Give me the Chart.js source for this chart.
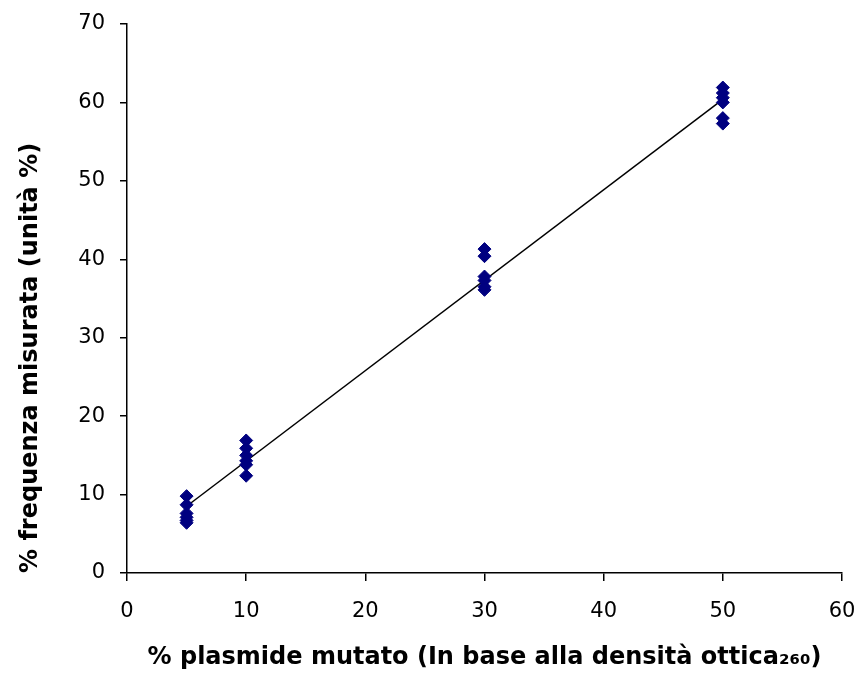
<!DOCTYPE html>
<html>
<head>
<meta charset="utf-8">
<title>Frequenza misurata vs plasmide mutato</title>
<script src="https://cdn.jsdelivr.net/npm/chart.js@4.4.1/dist/chart.umd.min.js"></script>
<style>
  html, body { margin: 0; padding: 0; background: #fff; }
  #wrap { width: 859px; height: 673px; }
</style>
</head>
<body>
<div id="wrap"><canvas id="chart" width="859" height="673"></canvas></div>
<script>
// Dati: % plasmide mutato e frequenza misurata
const livelli = [5, 10, 30, 50];
const misure5 = [9.8, 8.7, 7.6, 7.1, 6.7, 6.4];
const misure10 = [16.9, 15.9, 15.0, 14.3, 13.8, 12.4];
const misure30 = [41.3, 40.4, 37.8, 37.3, 36.5, 36.1];
const misure50 = [61.9, 61.2, 60.6, 60.0, 58.0, 57.3];
const tickX = [0, 10, 20, 30, 40, 50, 60];
const tickY = [0, 10, 20, 30, 40, 50, 60, 70];

const titoloX = '% plasmide mutato (In base alla densità ottica₂₆₀)';
const titoloY = '% frequenza misurata (unità %)';

// Punti (x, y) per lo scatter
const gruppi = [misure5, misure10, misure30, misure50];
const punti = [];
gruppi.forEach((valori, i) => {
  valori.forEach(v => punti.push({ x: livelli[i], y: v }));
});

// Retta di tendenza (minimi quadrati) come in Excel
function regressione(pts) {
  const n = pts.length;
  let sx = 0, sy = 0, sxy = 0, sxx = 0;
  pts.forEach(p => { sx += p.x; sy += p.y; sxy += p.x * p.y; sxx += p.x * p.x; });
  const m = (n * sxy - sx * sy) / (n * sxx - sx * sx);
  const q = (sy - m * sx) / n;
  return { m, q };
}
const fit = regressione(punti);
const xMin = Math.min(...livelli), xMax = Math.max(...livelli);
const tendenza = [
  { x: xMin, y: fit.m * xMin + fit.q },
  { x: xMax, y: fit.m * xMax + fit.q }
];

const fontTick = { family: 'DejaVu Sans', size: 21 };
const fontTitolo = { family: 'DejaVu Sans', size: 24, weight: 'bold' };

const ctx = document.getElementById('chart').getContext('2d');
const chart = new Chart(ctx, {
  type: 'scatter',
  data: {
    datasets: [
      {
        type: 'line',
        label: 'Tendenza',
        data: tendenza,
        borderColor: '#000',
        borderWidth: 1.5,
        pointRadius: 0,
        fill: false,
        order: 2
      },
      {
        label: 'Misure',
        data: punti,
        pointStyle: 'rectRot',
        pointRadius: 6.5,
        pointHoverRadius: 6.5,
        backgroundColor: '#000080',
        borderColor: '#000080',
        borderWidth: 1,
        order: 1
      }
    ]
  },
  options: {
    responsive: false,
    animation: false,
    layout: { padding: { top: 24, right: 17, left: 0, bottom: 0 } },
    plugins: {
      legend: { display: false },
      tooltip: { enabled: false }
    },
    scales: {
      x: {
        type: 'linear',
        min: 0,
        max: 60,
        afterBuildTicks: scale => { scale.ticks = tickX.map(v => ({ value: v })); },
        afterFit: scale => {
          scale.height = 100;
          scale.paddingLeft = 0;
          scale.paddingRight = 0;
        },
        border: { display: true, color: '#000', width: 1.5 },
        grid: { drawOnChartArea: false, drawTicks: true, tickLength: 8, color: '#000', lineWidth: 1.5 },
        ticks: { color: '#000', font: fontTick, padding: 18, maxRotation: 0 },
        title: { display: true, text: titoloX, color: '#000', font: fontTitolo, padding: { top: 0, bottom: 1 } }
      },
      y: {
        type: 'linear',
        min: 0,
        max: 70,
        afterBuildTicks: scale => { scale.ticks = tickY.map(v => ({ value: v })); },
        afterFit: scale => {
          scale.width = 127;
          scale.paddingTop = 0;
          scale.paddingBottom = 0;
        },
        border: { display: true, color: '#000', width: 1.5 },
        grid: { drawOnChartArea: false, drawTicks: true, tickLength: 7, color: '#000', lineWidth: 1.5 },
        ticks: { color: '#000', font: fontTick, padding: 15 },
        title: { display: true, text: titoloY, color: '#000', font: fontTitolo, align: 'start', padding: { top: 16, bottom: 0 } }
      }
    }
  }
});
</script>
</body>
</html>
